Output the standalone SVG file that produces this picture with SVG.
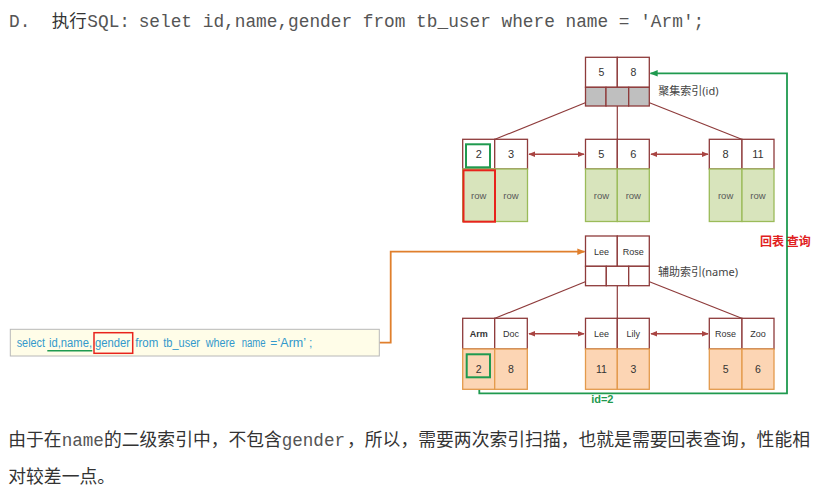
<svg xmlns="http://www.w3.org/2000/svg" width="821" height="495" viewBox="0 0 821 495">
<style>
.mono{font-family:"Liberation Mono","Courier New",monospace;fill:#555}
.cjk{font-family:"Noto Sans CJK SC","Noto Sans",sans-serif;fill:#333}
.lbl{font-family:"Liberation Sans",Arial,sans-serif;fill:#333;text-anchor:middle}
.cjkl{font-family:"Noto Sans","Noto Sans CJK SC",sans-serif;fill:#444;font-size:11px}
.key{fill:#fff;stroke:#8e3b3b;stroke-width:1.3}
.ptr{fill:#bfbfbf;stroke:#8e3b3b;stroke-width:1.3}
.ptrw{fill:#fff;stroke:#8e3b3b;stroke-width:1.3}
.gdat{fill:#d8e4bc;stroke:#9bbb59;stroke-width:1.3}
.odat{fill:#fcd5b4;stroke:#e39a4c;stroke-width:1.3}
.row{font-family:"Liberation Sans",Arial,sans-serif;fill:#595959;font-size:9.5px;text-anchor:middle}
.tree{stroke:#8e3b3b;stroke-width:1.2;fill:none}
.leafarrow{stroke:#a94442;stroke-width:1.5;fill:none;marker-start:url(#ahr);marker-end:url(#ahr)}
.sql{font-family:"Liberation Sans",Arial,sans-serif;fill:#3399cc;font-size:12px}
</style>
<defs>
<marker id="ahr" viewBox="0 0 10 10" refX="9" refY="5" markerWidth="7" markerHeight="7" markerUnits="userSpaceOnUse" orient="auto-start-reverse"><path d="M0,1 L10,5 L0,9 z" fill="#a94442"/></marker>
<marker id="ahg" viewBox="0 0 10 10" refX="9" refY="5" markerWidth="8" markerHeight="8" markerUnits="userSpaceOnUse" orient="auto"><path d="M0,1 L10,5 L0,9 z" fill="#1f9a4f"/></marker>
<marker id="aho" viewBox="0 0 10 10" refX="9" refY="5" markerWidth="8" markerHeight="8" markerUnits="userSpaceOnUse" orient="auto"><path d="M0,1 L10,5 L0,9 z" fill="#e07f2c"/></marker>
</defs>
<rect width="821" height="495" fill="#fff"/>

<!-- title -->
<g id="title">
<text class="mono" x="9" y="27" font-size="17.8">D.</text>
<text class="cjk" x="51.7" y="27" font-size="17.5">执行</text>
<text class="mono" x="87.3" y="27" font-size="17.8">SQL:</text>
<text class="mono" x="138.7" y="27" font-size="17.8">selet id,name,gender from tb_user where name = 'Arm';</text>
</g>

<!-- connectors -->
<g id="connectors">
<line class="tree" x1="594.5" y1="99" x2="495" y2="139.3"/>
<line class="tree" x1="617.3" y1="97" x2="617.3" y2="139.3"/>
<line class="tree" x1="640" y1="99" x2="741.7" y2="139.3"/>
<line class="tree" x1="594.5" y1="278" x2="495" y2="318.3"/>
<line class="tree" x1="617.3" y1="276" x2="617.3" y2="318.3"/>
<line class="tree" x1="640" y1="278" x2="741.7" y2="318.3"/>
<line class="leafarrow" x1="529" y1="154.3" x2="584" y2="154.3"/>
<line class="leafarrow" x1="651" y1="154.3" x2="708" y2="154.3"/>
<line class="leafarrow" x1="529" y1="333.7" x2="584" y2="333.7"/>
<line class="leafarrow" x1="651" y1="333.7" x2="708" y2="333.7"/>
<polyline points="379.3,342.7 390.7,342.7 390.7,251.7 584.5,251.7" fill="none" stroke="#e07f2c" stroke-width="1.8" marker-end="url(#aho)"/>
<polyline points="479.3,389.3 479.3,393.3 787,393.3 787,73.3 650.5,73.3" fill="none" stroke="#1f9a4f" stroke-width="1.8" marker-end="url(#ahg)"/>
<text x="760" y="246" font-family="Noto Sans CJK SC,sans-serif" font-size="12" font-weight="bold" fill="#e0201e">回表 查询</text>
<text x="602.3" y="403" font-family="Liberation Sans,Arial,sans-serif" font-size="11" font-weight="bold" fill="#1f9a4f" text-anchor="middle">id=2</text>
</g>

<!-- clustered index root -->
<g id="c-root">
<rect class="key" x="585.5" y="57.3" width="31.8" height="30"/>
<rect class="key" x="617.3" y="57.3" width="32" height="30"/>
<rect class="ptr" x="585.5" y="87.3" width="20.5" height="18.7"/>
<rect class="ptr" x="606" y="87.3" width="22.7" height="18.7"/>
<rect class="ptr" x="628.7" y="87.3" width="20.6" height="18.7"/>
<text class="lbl" x="601.4" y="76" font-size="10.5">5</text>
<text class="lbl" x="633.3" y="76" font-size="10.5">8</text>
<text class="cjkl" x="658.3" y="95">聚集索引(id)</text>
</g>

<!-- clustered leaves -->
<g id="c-leaf1">
<rect class="key" x="462.7" y="139.3" width="32" height="29.7"/>
<rect class="key" x="494.7" y="139.3" width="32.8" height="29.7"/>
<rect class="gdat" x="462.7" y="169" width="32" height="52.5"/>
<rect class="gdat" x="494.7" y="169" width="32.8" height="52.5"/>
<text class="lbl" x="478.7" y="158.2" font-size="11">2</text>
<text class="lbl" x="511" y="158.2" font-size="11">3</text>
<text class="row" x="478.7" y="199">row</text>
<text class="row" x="511" y="199">row</text>
<rect x="466" y="144.3" width="24" height="23" fill="none" stroke="#1f9a4f" stroke-width="2"/>
<rect x="463.5" y="170.3" width="31.5" height="51.4" fill="none" stroke="#e8231c" stroke-width="2"/>
</g>
<g id="c-leaf2">
<rect class="key" x="585.5" y="139.3" width="31.8" height="29.7"/>
<rect class="key" x="617.3" y="139.3" width="32" height="29.7"/>
<rect class="gdat" x="585.5" y="169" width="31.8" height="52.5"/>
<rect class="gdat" x="617.3" y="169" width="32" height="52.5"/>
<text class="lbl" x="601.4" y="158.2" font-size="11">5</text>
<text class="lbl" x="633.3" y="158.2" font-size="11">6</text>
<text class="row" x="601.4" y="199">row</text>
<text class="row" x="633.3" y="199">row</text>
</g>
<g id="c-leaf3">
<rect class="key" x="709.3" y="139.3" width="32.7" height="29.7"/>
<rect class="key" x="742" y="139.3" width="32" height="29.7"/>
<rect class="gdat" x="709.3" y="169" width="32.7" height="52.5"/>
<rect class="gdat" x="742" y="169" width="32" height="52.5"/>
<text class="lbl" x="725.6" y="158.2" font-size="11">8</text>
<text class="lbl" x="758" y="158.2" font-size="11">11</text>
<text class="row" x="725.6" y="199">row</text>
<text class="row" x="758" y="199">row</text>
</g>

<!-- secondary index root -->
<g id="s-root">
<rect class="key" x="585.5" y="236" width="31.8" height="30.3"/>
<rect class="key" x="617.3" y="236" width="32" height="30.3"/>
<rect class="ptrw" x="585.5" y="266.3" width="20.8" height="19.4"/>
<rect class="ptrw" x="606.3" y="266.3" width="22.4" height="19.4"/>
<rect class="ptrw" x="628.7" y="266.3" width="20.6" height="19.4"/>
<text class="lbl" x="601.4" y="254.5" font-size="9">Lee</text>
<text class="lbl" x="633.3" y="254.5" font-size="9">Rose</text>
<text class="cjkl" x="658" y="276">辅助索引(name)</text>
</g>

<!-- secondary leaves -->
<g id="s-leaf1">
<rect class="key" x="462.7" y="318.3" width="32" height="30.7"/>
<rect class="key" x="494.7" y="318.3" width="32.6" height="30.7"/>
<rect class="odat" x="462.7" y="349" width="32" height="40.3"/>
<rect class="odat" x="494.7" y="349" width="32.6" height="40.3"/>
<text class="lbl" x="478.7" y="337" font-size="9" font-weight="bold">Arm</text>
<text class="lbl" x="511" y="337" font-size="9">Doc</text>
<text class="lbl" x="478.7" y="372.7" font-size="10.5">2</text>
<text class="lbl" x="511" y="372.7" font-size="10.5">8</text>
<rect x="466.7" y="354.3" width="23.3" height="23" fill="none" stroke="#1f9a4f" stroke-width="2"/>
</g>
<g id="s-leaf2">
<rect class="key" x="585.5" y="318.3" width="31.8" height="30.7"/>
<rect class="key" x="617.3" y="318.3" width="32" height="30.7"/>
<rect class="odat" x="585.5" y="349" width="31.8" height="40.3"/>
<rect class="odat" x="617.3" y="349" width="32" height="40.3"/>
<text class="lbl" x="601.4" y="337" font-size="9">Lee</text>
<text class="lbl" x="633.3" y="337" font-size="9">Lily</text>
<text class="lbl" x="601.4" y="372.7" font-size="10.5">11</text>
<text class="lbl" x="633.3" y="372.7" font-size="10.5">3</text>
</g>
<g id="s-leaf3">
<rect class="key" x="709.3" y="318.3" width="32.7" height="30.7"/>
<rect class="key" x="742" y="318.3" width="32" height="30.7"/>
<rect class="odat" x="709.3" y="349" width="32.7" height="40.3"/>
<rect class="odat" x="742" y="349" width="32" height="40.3"/>
<text class="lbl" x="725.6" y="337" font-size="9">Rose</text>
<text class="lbl" x="758" y="337" font-size="9">Zoo</text>
<text class="lbl" x="725.6" y="372.7" font-size="10.5">5</text>
<text class="lbl" x="758" y="372.7" font-size="10.5">6</text>
</g>

<!-- SQL box -->
<g id="sql">
<rect x="10.3" y="329.3" width="369" height="26.7" fill="#fffde8" stroke="#b8b8b8" stroke-width="1"/>
<text class="sql" y="347"><tspan x="16.7" textLength="28.3" lengthAdjust="spacingAndGlyphs">select</tspan><tspan x="49" textLength="43" lengthAdjust="spacingAndGlyphs">id,name,</tspan><tspan x="95" textLength="35" lengthAdjust="spacingAndGlyphs">gender</tspan><tspan x="135.3" textLength="23" lengthAdjust="spacingAndGlyphs">from</tspan><tspan x="163.3" textLength="36.7" lengthAdjust="spacingAndGlyphs">tb_user</tspan><tspan x="205.7" textLength="29.3" lengthAdjust="spacingAndGlyphs">where</tspan><tspan x="241.7" textLength="24" lengthAdjust="spacingAndGlyphs">name</tspan><tspan x="270.3">=</tspan><tspan x="277.5" textLength="28.5" lengthAdjust="spacingAndGlyphs">‘Arm’</tspan><tspan x="309">;</tspan></text>
<line x1="47.3" y1="350.7" x2="92.3" y2="350.7" stroke="#1f9a4f" stroke-width="1.5"/>
<rect x="94" y="332.7" width="38.7" height="20.6" fill="none" stroke="#e8231c" stroke-width="1.5"/>
</g>

<!-- bottom paragraph -->
<g id="para">
<text class="cjk" x="8.3" y="446" font-size="17.8">由于在</text>
<text class="mono" x="61.7" y="446" font-size="17.6">name</text>
<text class="cjk" x="104" y="446" font-size="17.8">的二级索引中，不包含</text>
<text class="mono" x="281.7" y="446" font-size="17.6">gender</text>
<text class="cjk" x="347" y="446" font-size="17.8" textLength="463" lengthAdjust="spacing">，所以，需要两次索引扫描，也就是需要回表查询，性能相</text>
<text class="cjk" x="8.3" y="483" font-size="17.8">对较差一点。</text>
</g>
</svg>
